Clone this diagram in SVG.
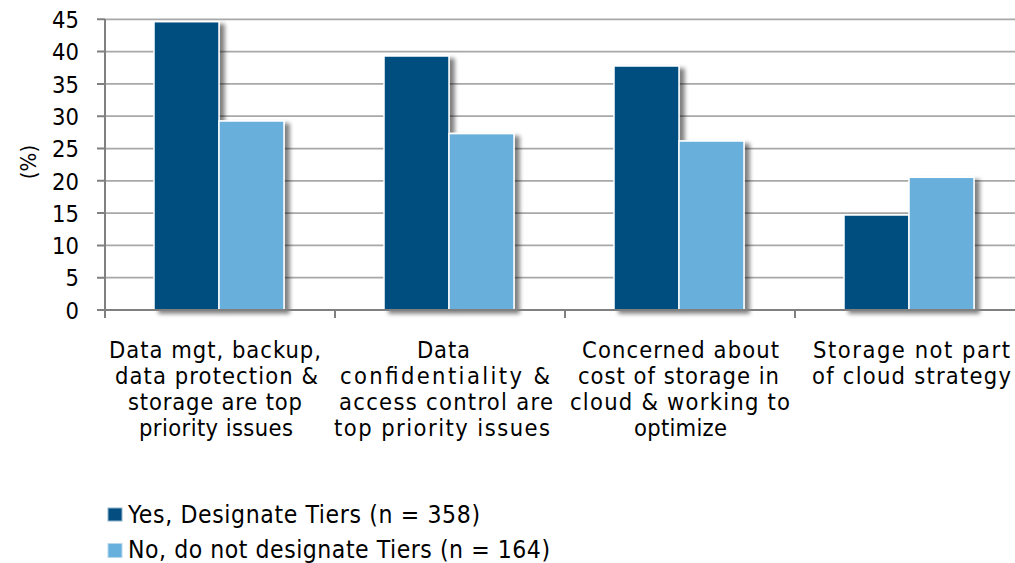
<svg xmlns="http://www.w3.org/2000/svg" width="1015" height="563" viewBox="0 0 1015 563">
  <defs>
    <filter id="shadow" x="-20%" y="-5%" width="160%" height="120%">
      <feGaussianBlur in="SourceAlpha" stdDeviation="2.2"/>
      <feOffset dx="5" dy="3" result="blur"/>
      <feComponentTransfer>
        <feFuncA type="linear" slope="0.5"/>
      </feComponentTransfer>
      <feMerge>
        <feMergeNode/>
        <feMergeNode in="SourceGraphic"/>
      </feMerge>
    </filter>
  </defs>
  <style>
    text { font-family: "DejaVu Sans Condensed", "DejaVu Sans", Tahoma, sans-serif; fill: #000; }
    .tick { font-size: 23.5px; text-anchor: end; }
    .cat { font-size: 23.5px; }
    .leg { font-size: 24.5px; }
    .grid { stroke: #a8a8a8; stroke-width: 1.75; }
    .axis { stroke: #808080; stroke-width: 2; fill: none; }
    .yes { fill: #034d80; stroke: #fff; stroke-width: 1.5; }
    .no { fill: #67afdc; stroke: #fff; stroke-width: 1.5; }
  </style>
  <rect width="1015" height="563" fill="#fff"/>

  <!-- horizontal gridlines, 5% steps -->
  <g id="gridlines">
    <line class="grid" x1="105" y1="19.3" x2="1015" y2="19.3"/>
    <line class="grid" x1="105" y1="51.6" x2="1015" y2="51.6"/>
    <line class="grid" x1="105" y1="83.9" x2="1015" y2="83.9"/>
    <line class="grid" x1="105" y1="116.2" x2="1015" y2="116.2"/>
    <line class="grid" x1="105" y1="148.5" x2="1015" y2="148.5"/>
    <line class="grid" x1="105" y1="180.8" x2="1015" y2="180.8"/>
    <line class="grid" x1="105" y1="213.1" x2="1015" y2="213.1"/>
    <line class="grid" x1="105" y1="245.4" x2="1015" y2="245.4"/>
    <line class="grid" x1="105" y1="277.7" x2="1015" y2="277.7"/>
  </g>

  <!-- bars -->
  <g id="bars" filter="url(#shadow)">
    <g id="cat1">
      <rect class="yes" x="154" y="21.7" width="65" height="288.3"/>
      <rect class="no" x="219" y="121" width="65" height="189"/>
    </g>
    <g id="cat2">
      <rect class="yes" x="384" y="56" width="65" height="254"/>
      <rect class="no" x="449" y="133.6" width="65" height="176.4"/>
    </g>
    <g id="cat3">
      <rect class="yes" x="614" y="66" width="65" height="244"/>
      <rect class="no" x="679" y="141" width="65" height="169"/>
    </g>
    <g id="cat4">
      <rect class="yes" x="844" y="215" width="65" height="95"/>
      <rect class="no" x="909" y="177.3" width="65" height="132.7"/>
    </g>
  </g>

  <!-- axes and ticks -->
  <g id="axes">
    <line class="axis" x1="105" y1="19" x2="105" y2="318"/>
    <line class="axis" x1="104" y1="310" x2="1015" y2="310"/>
    <path class="axis" d="M97 19.3H105M97 51.6H105M97 83.9H105M97 116.2H105M97 148.5H105M97 180.8H105M97 213.1H105M97 245.4H105M97 277.7H105M97 310H105"/>
    <path class="axis" d="M335 310V318M565 310V318M795 310V318"/>
  </g>

  <!-- value axis labels -->
  <g id="y-labels">
    <text class="tick" x="79" y="28">45</text>
    <text class="tick" x="79" y="60.3">40</text>
    <text class="tick" x="79" y="92.6">35</text>
    <text class="tick" x="79" y="124.9">30</text>
    <text class="tick" x="79" y="157.2">25</text>
    <text class="tick" x="79" y="189.5">20</text>
    <text class="tick" x="79" y="221.8">15</text>
    <text class="tick" x="79" y="254.1">10</text>
    <text class="tick" x="79" y="286.4">5</text>
    <text class="tick" x="79" y="318.7">0</text>
    <text transform="translate(36,162) rotate(-90)" font-size="22" text-anchor="middle">(%)</text>
  </g>

  <!-- category labels -->
  <g id="x-labels" class="cat">
    <text class="cat" x="109" y="358" textLength="212" lengthAdjust="spacing">Data mgt, backup,</text>
    <text class="cat" x="115" y="384" textLength="203" lengthAdjust="spacing">data protection &amp;</text>
    <text class="cat" x="128" y="410" textLength="174" lengthAdjust="spacing">storage are top</text>
    <text class="cat" x="139" y="436" textLength="154" lengthAdjust="spacing">priority issues</text>

    <text class="cat" x="417" y="358" textLength="53" lengthAdjust="spacing">Data</text>
    <text class="cat" x="340" y="384" textLength="210" lengthAdjust="spacing">confidentiality &amp;</text>
    <text class="cat" x="339" y="410" textLength="214" lengthAdjust="spacing">access control are</text>
    <text class="cat" x="334" y="436" textLength="216" lengthAdjust="spacing">top priority issues</text>

    <text class="cat" x="582" y="358" textLength="197" lengthAdjust="spacing">Concerned about</text>
    <text class="cat" x="578" y="384" textLength="201" lengthAdjust="spacing">cost of storage in</text>
    <text class="cat" x="570" y="410" textLength="220" lengthAdjust="spacing">cloud &amp; working to</text>
    <text class="cat" x="634" y="436" textLength="93" lengthAdjust="spacing">optimize</text>

    <text class="cat" x="813" y="358" textLength="197" lengthAdjust="spacing">Storage not part</text>
    <text class="cat" x="812" y="384" textLength="199" lengthAdjust="spacing">of cloud strategy</text>
  </g>

  <!-- legend -->
  <g id="legend">
    <g id="legend-yes">
      <rect x="108" y="508" width="14" height="13" fill="#034d80" stroke="#8fb3cc" stroke-width="1"/>
      <text class="leg" x="128" y="523" textLength="352" lengthAdjust="spacing">Yes, Designate Tiers (n = 358)</text>
    </g>
    <g id="legend-no">
      <rect x="108" y="543.5" width="14" height="14" fill="#67afdc" stroke="#b7d9ee" stroke-width="1"/>
      <text class="leg" x="128" y="558" textLength="422" lengthAdjust="spacing">No, do not designate Tiers (n = 164)</text>
    </g>
  </g>
</svg>
